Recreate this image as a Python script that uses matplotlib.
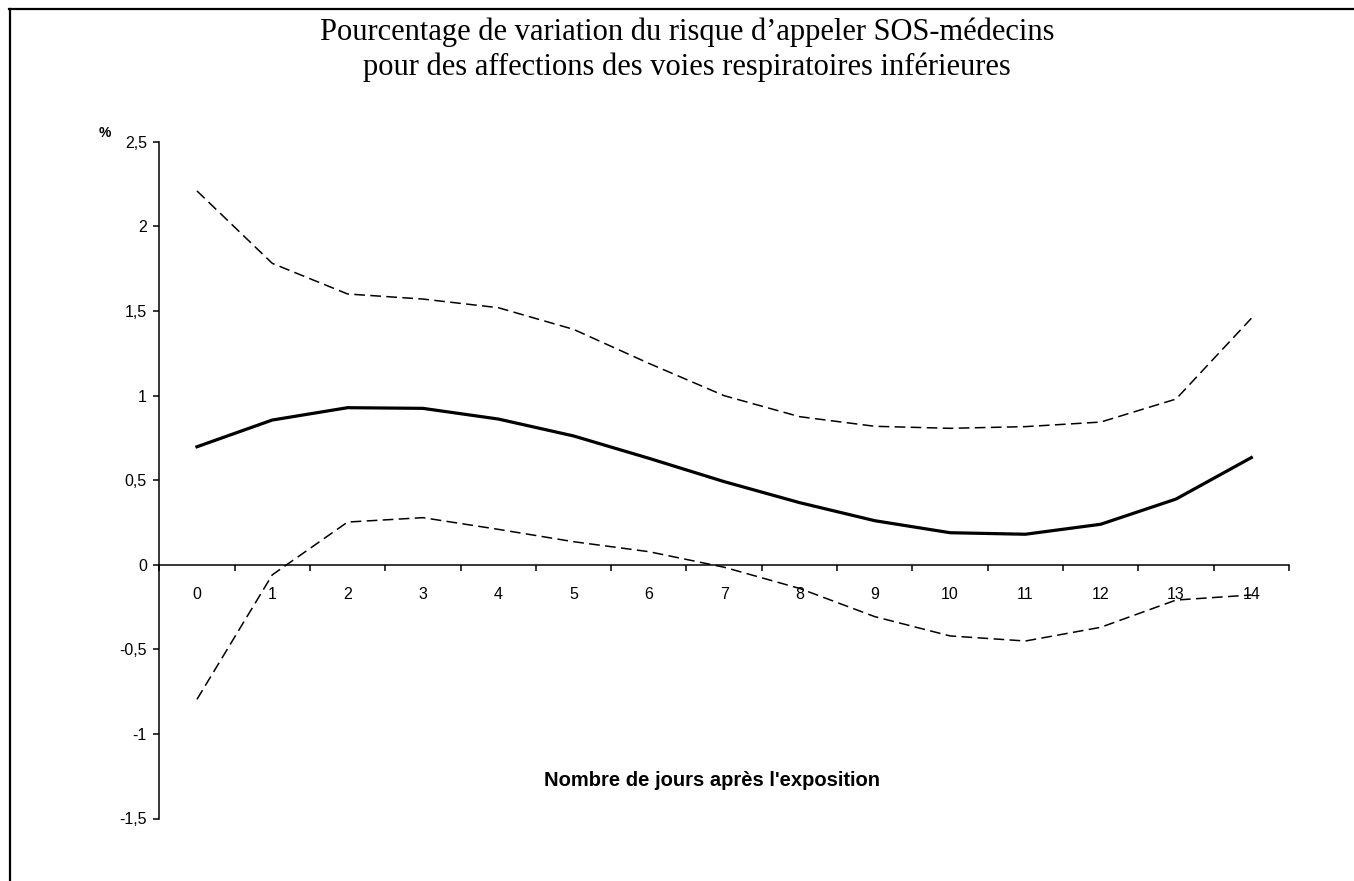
import matplotlib
matplotlib.use("Agg")
import matplotlib.pyplot as plt
from matplotlib.lines import Line2D

days = list(range(15))
day_labels = [str(d) for d in days]
central = [0.697, 0.855, 0.928, 0.924, 0.861, 0.761, 0.629, 0.491, 0.367, 0.260, 0.189, 0.180, 0.239, 0.388, 0.633]
upper = [2.209, 1.781, 1.600, 1.570, 1.519, 1.391, 1.190, 0.999, 0.875, 0.818, 0.806, 0.816, 0.843, 0.979, 1.456]
lower = [-0.796, -0.060, 0.252, 0.278, 0.209, 0.136, 0.077, -0.015, -0.140, -0.307, -0.421, -0.451, -0.370, -0.209, -0.179]
y_ticks = [-1.5, -1.0, -0.5, 0.0, 0.5, 1.0, 1.5, 2.0, 2.5]
y_tick_labels = ["-1,5", "-1", "-0,5", "0", "0,5", "1", "1,5", "2", "2,5"]

W, H = 1354, 881
fig = plt.figure(figsize=(W / 100, H / 100), dpi=100)
fig.patch.set_facecolor("white")

left_px, right_px, top_px, bottom_px = 159.3, 1289.0, 141.7, 818.5
ax = fig.add_axes([left_px / W, 1 - bottom_px / H, (right_px - left_px) / W, (bottom_px - top_px) / H])

ax.plot(days, upper, color="black", lw=1.1, linestyle=(0, (7, 3.5)))
ax.plot(days, lower, color="black", lw=1.1, linestyle=(0, (7, 3.5)))
ax.plot(days, central, color="black", lw=2.3, solid_joinstyle="round")

ax.set_xlim(-0.5, 14.5)
ax.set_ylim(-1.5, 2.5)

for s in ["top", "right"]:
    ax.spines[s].set_visible(False)
ax.spines["bottom"].set_position(("data", 0))
ax.spines["left"].set_linewidth(1.1)
ax.spines["bottom"].set_linewidth(1.1)

ax.set_yticks(y_ticks)
ax.set_yticklabels(y_tick_labels, fontfamily="Liberation Sans", fontsize=11.5)
ax.tick_params(axis="y", direction="out", length=4, width=1.1, pad=5)

ax.set_xticks(days)
ax.set_xticklabels(day_labels, fontfamily="Liberation Sans", fontsize=11.5)
ax.set_xticks([d - 0.5 for d in days] + [14.5], minor=True)
ax.tick_params(axis="x", which="major", length=0, pad=16)
ax.tick_params(axis="x", which="minor", direction="out", length=4, width=1.1)

fig.text(712 / W, 1 - 780 / H, "Nombre de jours après l'exposition", ha="center", va="center",
         fontfamily="Liberation Sans", fontweight="bold", fontsize=14.5)
fig.text(105 / W, 1 - 133 / H, "%", ha="center", va="center",
         fontfamily="Liberation Sans", fontweight="bold", fontsize=10)

fig.text(687 / W, 1 - 40 / H, "Pourcentage de variation du risque d\u2019appeler SOS-médecins",
         ha="center", va="baseline", fontfamily="Liberation Serif", fontsize=22)
fig.text(687 / W, 1 - 75 / H, "pour des affections des voies respiratoires inférieures",
         ha="center", va="baseline", fontfamily="Liberation Serif", fontsize=22)

fig.add_artist(Line2D([9 / W, 1.0], [1 - 8.5 / H, 1 - 8.5 / H], transform=fig.transFigure, color="black", lw=1.6))
fig.add_artist(Line2D([9.5 / W, 9.5 / W], [1 - 8.5 / H, 0.0], transform=fig.transFigure, color="black", lw=1.6))

fig.savefig("out.png", dpi=100, facecolor="white")
